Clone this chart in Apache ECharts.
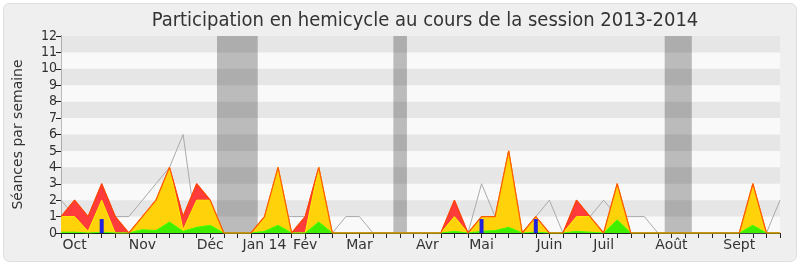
<!DOCTYPE html>
<html>
<head>
<meta charset="utf-8">
<script src="https://cdn.jsdelivr.net/npm/echarts@6/dist/echarts.min.js"></script>
<style>
html,body{margin:0;padding:0;background:#ffffff;}
#chart{width:800px;height:267px;}
</style>
</head>
<body>
<div id="chart"></div>
<script>
// Week index 0..53 (weekly points, Sept 2013 -> Sept 2014)
const weekCount = 54;
const monthTicks = [1, 6, 11, 15, 18, 22, 27, 31, 36, 40, 45, 50];
const monthNames = ['Oct', 'Nov', 'Déc', 'Jan 14', 'Fév', 'Mar', 'Avr', 'Mai', 'Juin', 'Juil', 'Août', 'Sept'];
const yTicks = [0,1,2,3,4,5,6,7,8,9,10,11,12];

// Holiday periods (first week, last week)
const holidayWeeks = [[12, 14], [25, 25], [45, 46]];

// Présences (red)
const presences = [1,2,1,3,1,0,1,2,4,1,3,2,0,0,0,1,4,0,1,4,0,0,0,0,0,0,0,0,0,2,0,1,1,5,0,1,0,0,2,1,0,3,0,0,0,0,0,0,0,0,0,3,0,0];
// Présences en hémicycle avec intervention (yellow)
const interventions = [1,1,0.1,2,0,0,1,2,4,0.2,2,2,0,0,0,1,4,0,0,4,0,0,0,0,0,0,0,0,0,1,0,1,1,5,0,1,0,0,1,1,0,3,0,0,0,0,0,0,0,0,0,3,0,0];
// Interventions longues (green)
const longues = [0.05,0.05,0,0.05,0,0,0.2,0.15,0.67,0.1,0.35,0.47,0,0,0,0.1,0.47,0,0,0.67,0,0,0,0,0,0,0,0,0,0.1,0,0.1,0.15,0.35,0,0.05,0,0,0.1,0.05,0,0.8,0,0,0,0,0,0,0,0,0,0.47,0,0];
// Médiane des députés (gray)
const mediane = [2,1,1,2,1,1,2,3,4,6,0,1,0,0,0,1,1,1,1,1,0,1,1,0,0,0,0,0,0,1,0,3,1,2,0,1,2,0,1,1,2,1,1,1,0,0,0,0,0,0,0,0,0,2];
// Questions orales (blue)
const questionWeeks = [3, 31, 35];
const questionValues = [0.85, 0.85, 0.85];

const pts = arr => arr.map((v, i) => [i, v]);

const bandAreas = holidayWeeks.map(h => [{xAxis: h[0] - 0.5}, {xAxis: h[1] + 0.5}]);
const stripeAreas = [];
for (let i = 1; i < yTicks.length - 1; i += 2) {
  stripeAreas.push([{yAxis: yTicks[i]}, {yAxis: yTicks[i + 1]}]);
}

const chart = echarts.init(document.getElementById('chart'), null, {renderer: 'canvas'});
const FONT = 'DejaVu Sans';
const TFONT = '"DejaVu Sans Condensed", "DejaVu Sans"';
chart.setOption({
  animation: false,
  backgroundColor: '#ffffff',
  textStyle: {fontFamily: FONT},
  graphic: [{
    type: 'rect', z: -10, silent: true,
    shape: {x: 3.5, y: 3.5, width: 793, height: 258, r: 6},
    style: {fill: '#efefef', stroke: '#dedede', lineWidth: 1}
  }],
  title: {
    text: 'Participation en hemicycle au cours de la session 2013-2014',
    left: 420, top: 6, textAlign: 'center',
    textStyle: {fontFamily: TFONT, fontSize: 20, fontWeight: 'normal', color: '#333'}
  },
  grid: {left: 61, right: 20, top: 36, bottom: 34, show: true, backgroundColor: '#f9f9f9', borderWidth: 0},
  xAxis: [{
    type: 'value', min: 0, max: weekCount - 1, interval: 1,
    axisLine: {show: true, lineStyle: {color: '#222', width: 1}},
    axisTick: {show: true, inside: false, length: 5, lineStyle: {color: '#222'}},
    splitLine: {show: false},
    axisLabel: {
      show: true, margin: 5, fontSize: 14, color: '#333', fontFamily: FONT,
      formatter: v => { const k = monthTicks.indexOf(v); return k >= 0 ? monthNames[k] : ''; }
    }
  }, {
    type: 'value', position: 'top', min: 0, max: weekCount - 1, interval: 1,
    axisLine: {show: false},
    axisTick: {show: true, inside: true, length: 1.5, lineStyle: {color: '#333'}},
    axisLabel: {show: false}, splitLine: {show: false}
  }],
  yAxis: [{
    type: 'value', min: 0, max: 12, interval: 1,
    name: 'Séances par semaine', nameLocation: 'middle', nameGap: 36,
    nameTextStyle: {fontSize: 14, color: '#333', fontFamily: FONT},
    axisLine: {show: true, lineStyle: {color: '#222'}},
    axisTick: {show: true, length: 5, lineStyle: {color: '#222'}},
    axisLabel: {fontSize: 14, color: '#333', margin: 4, fontFamily: TFONT},
    splitLine: {show: false}
  }, {
    type: 'value', position: 'right', min: 0, max: 12, interval: 1,
    axisLine: {show: true, lineStyle: {color: '#bbbbbb'}},
    axisTick: {show: false}, axisLabel: {show: false}, splitLine: {show: false}
  }],
  series: [
    {
      type: 'line', data: [], z: 1, silent: true,
      markArea: {silent: true, itemStyle: {color: '#bbbbbb'}, data: bandAreas}
    },
    {
      type: 'line', data: [], z: 1, silent: true,
      markArea: {silent: true, itemStyle: {color: 'rgba(0,0,0,0.076)'}, data: stripeAreas}
    },
    {
      name: 'Médiane', type: 'line', data: pts(mediane), z: 2, symbol: 'none',
      lineStyle: {color: '#aaaaaa', width: 1}
    },
    {
      name: 'Présences', type: 'line', data: pts(presences), z: 3, symbol: 'none',
      lineStyle: {color: '#ff2a2a', width: 1},
      areaStyle: {color: '#ff3b3b', opacity: 1}
    },
    {
      name: 'Interventions', type: 'line', data: pts(interventions), z: 4, symbol: 'none',
      lineStyle: {color: '#ffee00', width: 1},
      areaStyle: {color: '#ffd20a', opacity: 1}
    },
    {
      name: 'Longues', type: 'line', data: pts(longues), z: 5, symbol: 'none',
      lineStyle: {color: '#44ff00', width: 1},
      areaStyle: {color: '#3fee00', opacity: 1}
    },
    {
      name: 'PrésencesLigne', type: 'line', data: pts(presences), z: 6, symbol: 'none',
      lineStyle: {color: '#ff4a00', width: 1.2, opacity: 0.9}
    },
    {
      name: 'Questions', type: 'bar', data: questionWeeks.map((w, i) => [w, questionValues[i]]),
      z: 7, barWidth: 4, itemStyle: {color: '#2222dd'}
    }
  ]
});
</script>
</body>
</html>
